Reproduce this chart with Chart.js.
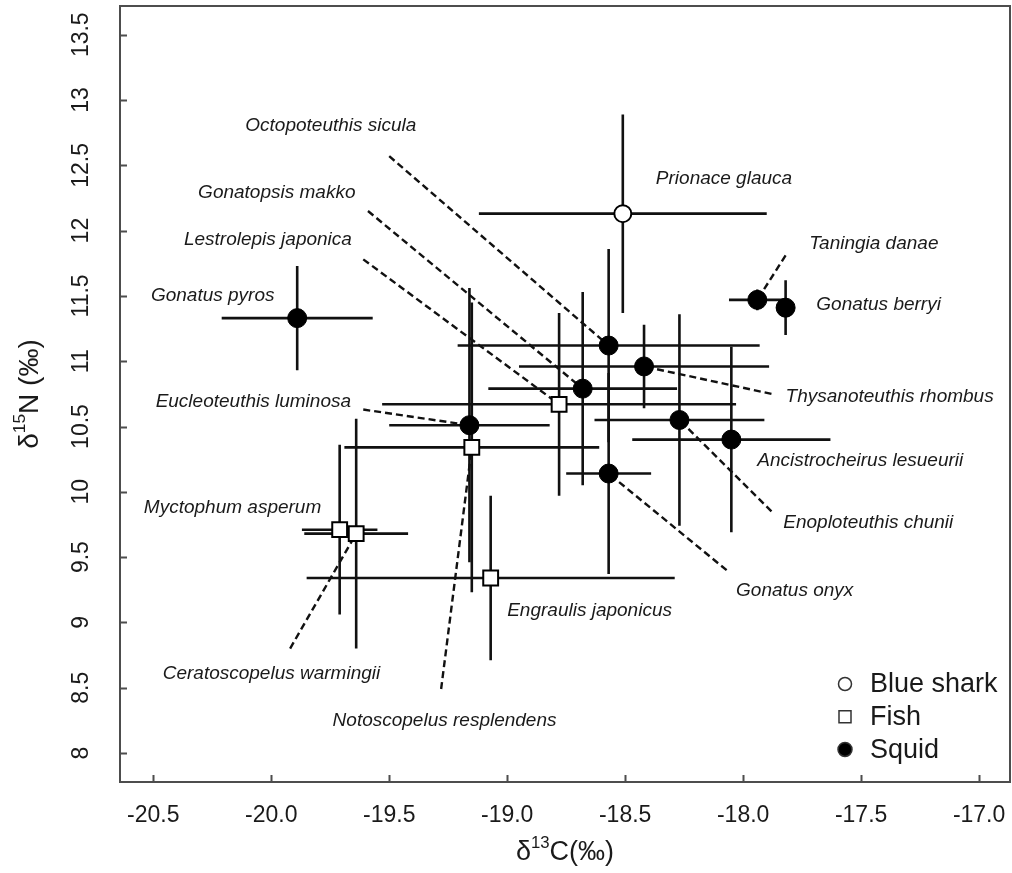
<!DOCTYPE html>
<html>
<head>
<meta charset="utf-8">
<script src="https://cdn.jsdelivr.net/npm/chart.js@4.4.3/dist/chart.umd.min.js"></script>
<style>
  html, body { margin: 0; padding: 0; background: #fff; }
  canvas { display: block; }
</style>
</head>
<body>
<canvas id="isotope-chart" width="1012" height="873"></canvas>
<script>
// species, group and mean +/- SD
const speciesNames = [
  "Prionace glauca", "Taningia danae", "Gonatus berryi", "Gonatus pyros",
  "Octopoteuthis sicula", "Thysanoteuthis rhombus", "Gonatopsis makko",
  "Lestrolepis japonica", "Enoploteuthis chunii", "Eucleoteuthis luminosa",
  "Ancistrocheirus lesueurii", "Notoscopelus resplendens", "Gonatus onyx",
  "Myctophum asperum", "Ceratoscopelus warmingii", "Engraulis japonicus",
];
const speciesGroup = [
  "Blue shark", "Squid", "Squid", "Squid", "Squid", "Squid", "Squid",
  "Fish", "Squid", "Squid", "Squid", "Fish", "Squid", "Fish", "Fish", "Fish",
];
const carbonMean = [-18.51, -17.94, -17.82, -19.89, -18.57, -18.42, -18.68, -18.78, -18.27, -19.16, -18.05, -19.15, -18.57, -19.71, -19.64, -19.07];
const nitrogenMean = [12.13, 11.47, 11.41, 11.33, 11.12, 10.96, 10.79, 10.67, 10.55, 10.51, 10.40, 10.34, 10.14, 9.71, 9.68, 9.34];
const carbonSd = [0.61, 0.12, 0.04, 0.32, 0.64, 0.53, 0.40, 0.75, 0.36, 0.34, 0.42, 0.54, 0.18, 0.16, 0.22, 0.78];
const nitrogenSd = [0.76, 0.08, 0.21, 0.40, 0.74, 0.32, 0.74, 0.70, 0.81, 1.05, 0.71, 1.11, 0.77, 0.65, 0.88, 0.63];

// where each name sits (left edge, middle) and where its dashed leader starts
const labelCarbon = [-18.37, -17.72, -17.69, -20.51, -20.11, -17.82, -20.31, -20.37, -17.83, -20.49, -17.94, -19.74, -18.03, -20.54, -20.46, -19.00];
const labelNitrogen = [12.40, 11.90, 11.43, 11.50, 12.80, 10.73, 12.29, 11.93, 9.76, 10.69, 10.24, 8.25, 9.24, 9.88, 8.61, 9.09];
const leaderCarbon = [null, -17.82, null, null, -19.50, -17.88, -19.59, -19.61, -17.88, -19.61, null, -19.28, -18.07, null, -19.92, null];
const leaderNitrogen = [null, 11.81, null, null, 12.57, 10.75, 12.15, 11.78, 9.85, 10.63, null, 8.49, 9.40, null, 8.80, null];

const groupNames = ["Blue shark", "Fish", "Squid"];
const carbonRange = [-20.641, -16.869];
const nitrogenRange = [7.778, 13.72];
const tickStep = 0.5;

const FONT = '"Liberation Sans", Arial, Helvetica, sans-serif';
const INK = "#111";
const FRAME = "#4d4d4d";
const TEXT = "#1a1a1a";

const groupStyles = {
  "Blue shark": { pointStyle: "circle", radius: 8.5, fill: "#fff", border: 2 },
  Fish: { pointStyle: "rect", radius: 10.5, fill: "#fff", border: 2 },
  Squid: { pointStyle: "circle", radius: 9.5, fill: "#000", border: 1 },
};

function drawSupText(ctx, parts, size) {
  const widths = parts.map((part) => {
    ctx.font = `${part.sup ? size * 0.62 : size}px ${FONT}`;
    return ctx.measureText(part.text).width;
  });
  const total = widths.reduce((sum, w) => sum + w, 0);
  let cursor = -total / 2;
  ctx.textAlign = "left";
  ctx.textBaseline = "middle";
  parts.forEach((part, i) => {
    ctx.font = `${part.sup ? size * 0.62 : size}px ${FONT}`;
    ctx.fillText(part.text, cursor, part.sup ? -size * 0.36 : 0);
    cursor += widths[i];
  });
}

const isotopeDecor = {
  id: "isotopeDecor",
  beforeDatasetsDraw(chart) {
    const { ctx, scales: { x, y } } = chart;
    ctx.save();
    ctx.strokeStyle = INK;
    ctx.lineWidth = 2.6;
    speciesNames.forEach((_, i) => {
      const px = x.getPixelForValue(carbonMean[i]);
      const py = y.getPixelForValue(nitrogenMean[i]);
      ctx.beginPath();
      ctx.moveTo(x.getPixelForValue(carbonMean[i] - carbonSd[i]), py);
      ctx.lineTo(x.getPixelForValue(carbonMean[i] + carbonSd[i]), py);
      ctx.moveTo(px, y.getPixelForValue(nitrogenMean[i] - nitrogenSd[i]));
      ctx.lineTo(px, y.getPixelForValue(nitrogenMean[i] + nitrogenSd[i]));
      ctx.stroke();
    });

    ctx.setLineDash([7, 4]);
    ctx.lineWidth = 2.4;
    speciesNames.forEach((_, i) => {
      if (leaderCarbon[i] === null) {
        return;
      }
      ctx.beginPath();
      ctx.moveTo(x.getPixelForValue(leaderCarbon[i]), y.getPixelForValue(leaderNitrogen[i]));
      ctx.lineTo(x.getPixelForValue(carbonMean[i]), y.getPixelForValue(nitrogenMean[i]));
      ctx.stroke();
    });
    ctx.restore();
  },
  afterDraw(chart) {
    const { ctx, chartArea: area, scales: { x, y } } = chart;
    ctx.save();

    // box and inward ticks
    ctx.strokeStyle = FRAME;
    ctx.lineWidth = 2;
    ctx.strokeRect(area.left, area.top, area.right - area.left, area.bottom - area.top);
    ctx.beginPath();
    x.ticks.forEach((tick) => {
      const px = Math.round(x.getPixelForValue(tick.value)) + 0.5;
      ctx.moveTo(px, area.bottom);
      ctx.lineTo(px, area.bottom - 7);
    });
    y.ticks.forEach((tick) => {
      const py = Math.round(y.getPixelForValue(tick.value)) + 0.5;
      ctx.moveTo(area.left, py);
      ctx.lineTo(area.left + 7, py);
    });
    ctx.stroke();

    // rotated y tick labels
    ctx.fillStyle = TEXT;
    ctx.font = `23px ${FONT}`;
    ctx.textAlign = "center";
    ctx.textBaseline = "middle";
    y.ticks.forEach((tick) => {
      ctx.save();
      ctx.translate(82, y.getPixelForValue(tick.value));
      ctx.rotate(-Math.PI / 2);
      ctx.fillText(String(+tick.value.toFixed(1)), 0, 0);
      ctx.restore();
    });

    // axis titles
    ctx.save();
    ctx.translate((area.left + area.right) / 2, 853);
    drawSupText(ctx, [{ text: "\u03b4" }, { text: "13", sup: true }, { text: "C(\u2030)" }], 27);
    ctx.restore();
    ctx.save();
    ctx.translate(30, (area.top + area.bottom) / 2);
    ctx.rotate(-Math.PI / 2);
    drawSupText(ctx, [{ text: "\u03b4" }, { text: "15", sup: true }, { text: "N (\u2030)" }], 28);
    ctx.restore();

    // species names
    ctx.fillStyle = TEXT;
    ctx.font = `italic 19px ${FONT}`;
    ctx.textAlign = "left";
    ctx.textBaseline = "middle";
    speciesNames.forEach((name, i) => {
      ctx.fillText(name, x.getPixelForValue(labelCarbon[i]), y.getPixelForValue(labelNitrogen[i]));
    });

    // legend
    const legendX = 845;
    const legendTop = 684;
    const legendGap = 32.7;
    groupNames.forEach((group, i) => {
      const ly = legendTop + i * legendGap;
      ctx.lineWidth = 1.5;
      ctx.strokeStyle = "#333";
      ctx.fillStyle = group === "Squid" ? "#000" : "#fff";
      ctx.beginPath();
      if (group === "Fish") {
        ctx.rect(legendX - 6, ly - 6, 12, 12);
      } else {
        ctx.arc(legendX, ly, group === "Squid" ? 7 : 6.5, 0, Math.PI * 2);
      }
      ctx.fill();
      ctx.stroke();
      ctx.fillStyle = TEXT;
      ctx.font = `27px ${FONT}`;
      ctx.textAlign = "left";
      ctx.textBaseline = "middle";
      ctx.fillText(group, 870, ly + 1);
    });
    ctx.restore();
  },
};

const datasets = groupNames.map((group) => {
  const style = groupStyles[group];
  const points = [];
  speciesNames.forEach((_, i) => {
    if (speciesGroup[i] === group) {
      points.push({ x: carbonMean[i], y: nitrogenMean[i] });
    }
  });
  return {
    label: group,
    data: points,
    pointStyle: style.pointStyle,
    pointRadius: style.radius,
    backgroundColor: style.fill,
    borderColor: "#000",
    borderWidth: style.border,
  };
});

function noAxisPadding(scale) {
  scale.paddingLeft = 0;
  scale.paddingRight = 0;
  scale.paddingTop = 0;
  scale.paddingBottom = 0;
}

new Chart(document.getElementById("isotope-chart"), {
  type: "scatter",
  data: { datasets },
  options: {
    responsive: false,
    animation: false,
    layout: { autoPadding: false, padding: { top: 6, right: 2, left: 0, bottom: 0 } },
    plugins: {
      legend: { display: false },
      tooltip: { enabled: false },
    },
    scales: {
      x: {
        type: "linear",
        min: carbonRange[0],
        max: carbonRange[1],
        afterFit: (scale) => {
          scale.height = 91;
          noAxisPadding(scale);
        },
        grid: { display: false, drawTicks: false },
        border: { display: false },
        ticks: {
          stepSize: tickStep,
          includeBounds: false,
          autoSkip: false,
          maxRotation: 0,
          padding: 20,
          color: TEXT,
          font: { family: FONT, size: 23 },
          callback: (value) => Number(value).toFixed(1),
        },
      },
      y: {
        type: "linear",
        min: nitrogenRange[0],
        max: nitrogenRange[1],
        afterFit: (scale) => {
          scale.width = 120;
          noAxisPadding(scale);
        },
        grid: { display: false, drawTicks: false },
        border: { display: false },
        ticks: {
          display: false,
          stepSize: tickStep,
          includeBounds: false,
        },
      },
    },
  },
  plugins: [isotopeDecor],
});
</script>
</body>
</html>
